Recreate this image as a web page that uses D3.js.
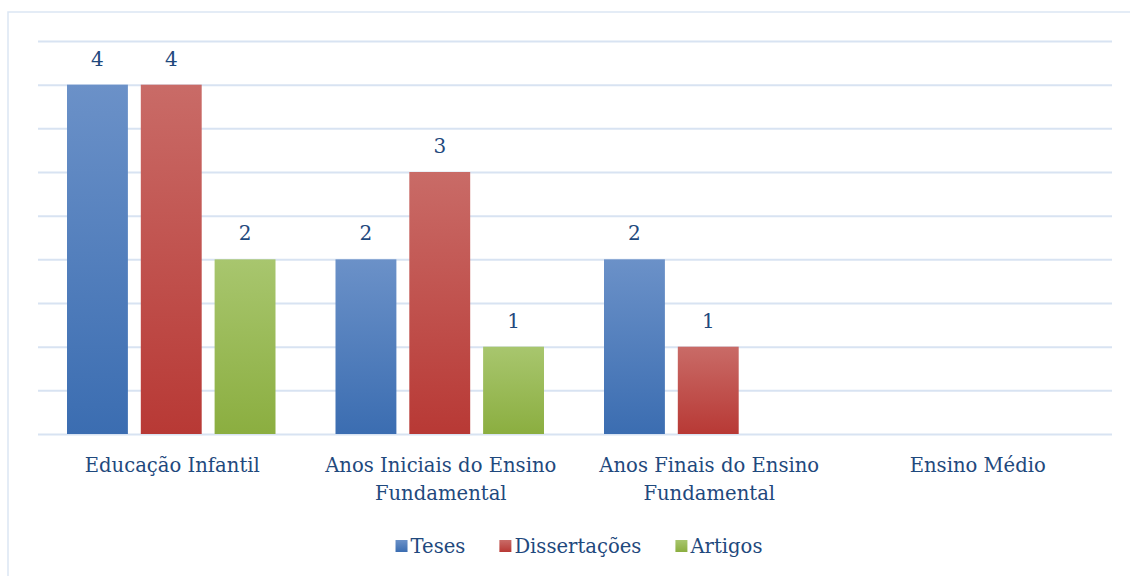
<!DOCTYPE html>
<html>
<head>
<meta charset="utf-8">
<script src="https://cdn.jsdelivr.net/npm/d3@7"></script>
<style>
  body { margin: 0; background: #fff; }
  svg text { font-family: "DejaVu Serif", serif; fill: #1f497d; }
</style>
</head>
<body>
<div id="chart"></div>
<script>
// data
var categories = ["Educação Infantil", "Anos Iniciais do Ensino Fundamental", "Anos Finais do Ensino Fundamental", "Ensino Médio"];
var seriesNames = ["Teses", "Dissertações", "Artigos"];
var teses = [4, 2, 2, null];
var dissertacoes = [4, 3, 1, null];
var artigos = [2, 1, null, null];
var yTicks = [0, 0.5, 1, 1.5, 2, 2.5, 3, 3.5, 4, 4.5];

var colors = [
  {top: "#6b91c8", bottom: "#3b6db1"},
  {top: "#c96b67", bottom: "#b83935"},
  {top: "#a8c66e", bottom: "#8bae40"}
];

var W = 1130, H = 576;
var margin = {top: 41, right: 18, bottom: 142, left: 38},
    width = W - margin.left - margin.right,
    height = H - margin.top - margin.bottom;

var svg = d3.select("#chart").append("svg")
    .attr("width", W).attr("height", H);

// outer frame
svg.append("rect")
  .attr("x", 8).attr("y", 12)
  .attr("width", W + 10).attr("height", H + 10)
  .attr("fill", "none").attr("stroke", "#dbe6f4").attr("stroke-width", 1.5);

var defs = svg.append("defs");
colors.forEach(function(c, i) {
  var g = defs.append("linearGradient").attr("id", "grad" + i)
    .attr("x1", 0).attr("y1", 0).attr("x2", 0).attr("y2", 1);
  g.append("stop").attr("offset", "0%").attr("stop-color", c.top);
  g.append("stop").attr("offset", "100%").attr("stop-color", c.bottom);
});

var g = svg.append("g")
  .attr("transform", "translate(" + margin.left + "," + margin.top + ")");

var x0 = d3.scaleBand().domain(categories).range([0, width]).paddingInner(0).paddingOuter(0);
var x1 = d3.scaleBand().domain(seriesNames).range([29, x0.bandwidth() - 31]).paddingInner(0.175).paddingOuter(0);
var y = d3.scaleLinear().domain([0, 4.5]).range([height, 0]);

// gridlines
g.append("g")
  .call(d3.axisLeft(y).tickValues(yTicks).tickSize(-width).tickFormat(""))
  .call(function(a) {
    a.select(".domain").remove();
    a.selectAll("line").attr("stroke", "#d8e3f2").attr("stroke-width", 2);
  });

var series = [teses, dissertacoes, artigos];
var rows = [];
series.forEach(function(vals, si) {
  vals.forEach(function(v, ci) {
    if (v != null) rows.push({cat: categories[ci], s: seriesNames[si], si: si, v: v});
  });
});

g.selectAll("rect.bar").data(rows).enter().append("rect")
  .attr("class", "bar")
  .attr("x", function(d) { return x0(d.cat) + x1(d.s); })
  .attr("y", function(d) { return y(d.v); })
  .attr("width", x1.bandwidth())
  .attr("height", function(d) { return height - y(d.v); })
  .attr("fill", function(d) { return "url(#grad" + d.si + ")"; });

g.selectAll("text.val").data(rows).enter().append("text")
  .attr("class", "val")
  .attr("x", function(d) { return x0(d.cat) + x1(d.s) + x1.bandwidth() / 2; })
  .attr("y", function(d) { return y(d.v) - 19; })
  .attr("text-anchor", "middle")
  .style("font-size", "20px")
  .text(function(d) { return d.v; });

// category labels, wrapped in two lines
var wrapped = [["Educação Infantil"], ["Anos Iniciais do Ensino", "Fundamental"], ["Anos Finais do Ensino", "Fundamental"], ["Ensino Médio"]];
var xAxis = g.append("g").attr("transform", "translate(0," + height + ")");
categories.forEach(function(c, i) {
  var t = xAxis.append("text")
    .attr("x", x0(c) + x0.bandwidth() / 2)
    .attr("y", 38)
    .attr("text-anchor", "middle")
    .style("font-size", "19.6px");
  wrapped[i].forEach(function(line, j) {
    t.append("tspan").attr("x", x0(c) + x0.bandwidth() / 2).attr("dy", j === 0 ? 0 : 28).text(line);
  });
});

// legend, laid out from text widths and centred like the original
var legend = svg.append("g");
var cursor = 0;
seriesNames.forEach(function(s, i) {
  var item = legend.append("g").attr("transform", "translate(" + cursor + ",0)");
  item.append("rect")
    .attr("x", 0).attr("y", 540)
    .attr("width", 12).attr("height", 12)
    .attr("fill", "url(#grad" + i + ")");
  var t = item.append("text")
    .attr("x", 15).attr("y", 553)
    .style("font-size", "19.6px")
    .text(s);
  cursor += 15 + t.node().getComputedTextLength() + (i < seriesNames.length - 1 ? 34 : 0);
});
legend.attr("transform", "translate(" + (579 - cursor / 2) + ",0)");
</script>
</body>
</html>
